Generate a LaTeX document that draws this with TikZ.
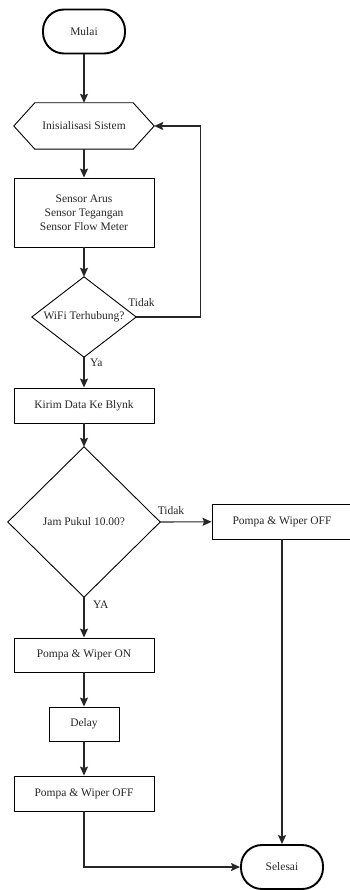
\documentclass[tikz,border=0pt]{standalone}
\usepackage{fontspec}
\setmainfont{Liberation Serif}
\usepackage{tikz}
\usetikzlibrary{arrows.meta}

\begin{document}
\begin{tikzpicture}[x=1pt,y=-1pt,font=\fontsize{11.5}{14}\selectfont]
            \tikzstyle{every node}+=[inner sep=0pt,text=black!85]
            \tikzstyle{term}=[draw,line width=1.9pt,rounded corners=21pt,minimum width=82pt,minimum height=44pt]
            \tikzstyle{proc}=[draw,line width=0.9pt,minimum width=140pt,minimum height=35pt,align=center]
            \tikzstyle{hole}=[minimum width=104pt,minimum height=80pt]
            \tikzstyle{line}=[line width=1.1pt,black!85]
            \tikzstyle{arr}=[line,-{Stealth[length=9pt,width=8pt,inset=1.5pt]}]
            \useasboundingbox (0,0) rectangle (349,890);
            % nodes
            \node [term] (mulai) at (84,31.5) {Mulai};
            \node [minimum width=140pt,minimum height=46pt] (init) at (84,126) {Inisialisasi Sistem};
            \draw [line width=0.9pt] ([xshift=21pt]init.north west) -- ([xshift=-21pt]init.north east) -- (init.east)
                -- ([xshift=-21pt]init.south east) -- ([xshift=21pt]init.south west) -- (init.west) -- cycle;
            \node [proc,minimum height=69pt] (sensor) at (84,212.5) {Sensor Arus\\Sensor Tegangan\\Sensor Flow Meter};
            \node [hole] (wifi) at (84,317) {WiFi Terhubung?};
            \draw [line width=0.9pt] (wifi.north) -- (wifi.east) -- (wifi.south) -- (wifi.west) -- cycle;
            \node [proc] (kirim) at (84,405.5) {Kirim Data Ke Blynk};
            \node [hole,minimum width=152pt,minimum height=150pt] (jam) at (84,522) {Jam Pukul 10.00?};
            \draw [line width=0.9pt] (jam.north) -- (jam.east) -- (jam.south) -- (jam.west) -- cycle;
            \node [proc] (offa) at (282,521.5) {Pompa \& Wiper OFF};
            \node [proc,minimum height=34pt] (on) at (84,655) {Pompa \& Wiper ON};
            \node [proc,minimum width=70pt,minimum height=34pt] (delay) at (84,724) {Delay};
            \node [proc] (offb) at (84,793.5) {Pompa \& Wiper OFF};
            \node [term] (selesai) at (282,867) {Selesai};
            \coordinate (balik) at (200.5,0);
            % connectors
            \draw [arr] (mulai) -- (init);
            \draw [arr] (init) -- (sensor);
            \draw [arr] (sensor) -- (wifi.north);
            \draw [arr] (wifi.east) -- (wifi.east -| balik) |- (init.east);
            \draw (141.5,303) node {Tidak};
            \draw [arr] (wifi.south) -- (kirim);
            \draw (90,363) node [right] {Ya};
            \draw [arr] (kirim) -- (jam.north);
            \draw [arr] (jam.east) -- (offa);
            \draw (171,511) node {Tidak};
            \draw [arr] (jam.south) -- (on);
            \draw (93,605) node [right] {YA};
            \draw [arr] (on) -- (delay);
            \draw [arr] (delay) -- (offb);
            \draw [arr] (offa) -- (selesai);
            \draw [arr] (offb) |- (selesai);
          \end{tikzpicture}
\end{document}
